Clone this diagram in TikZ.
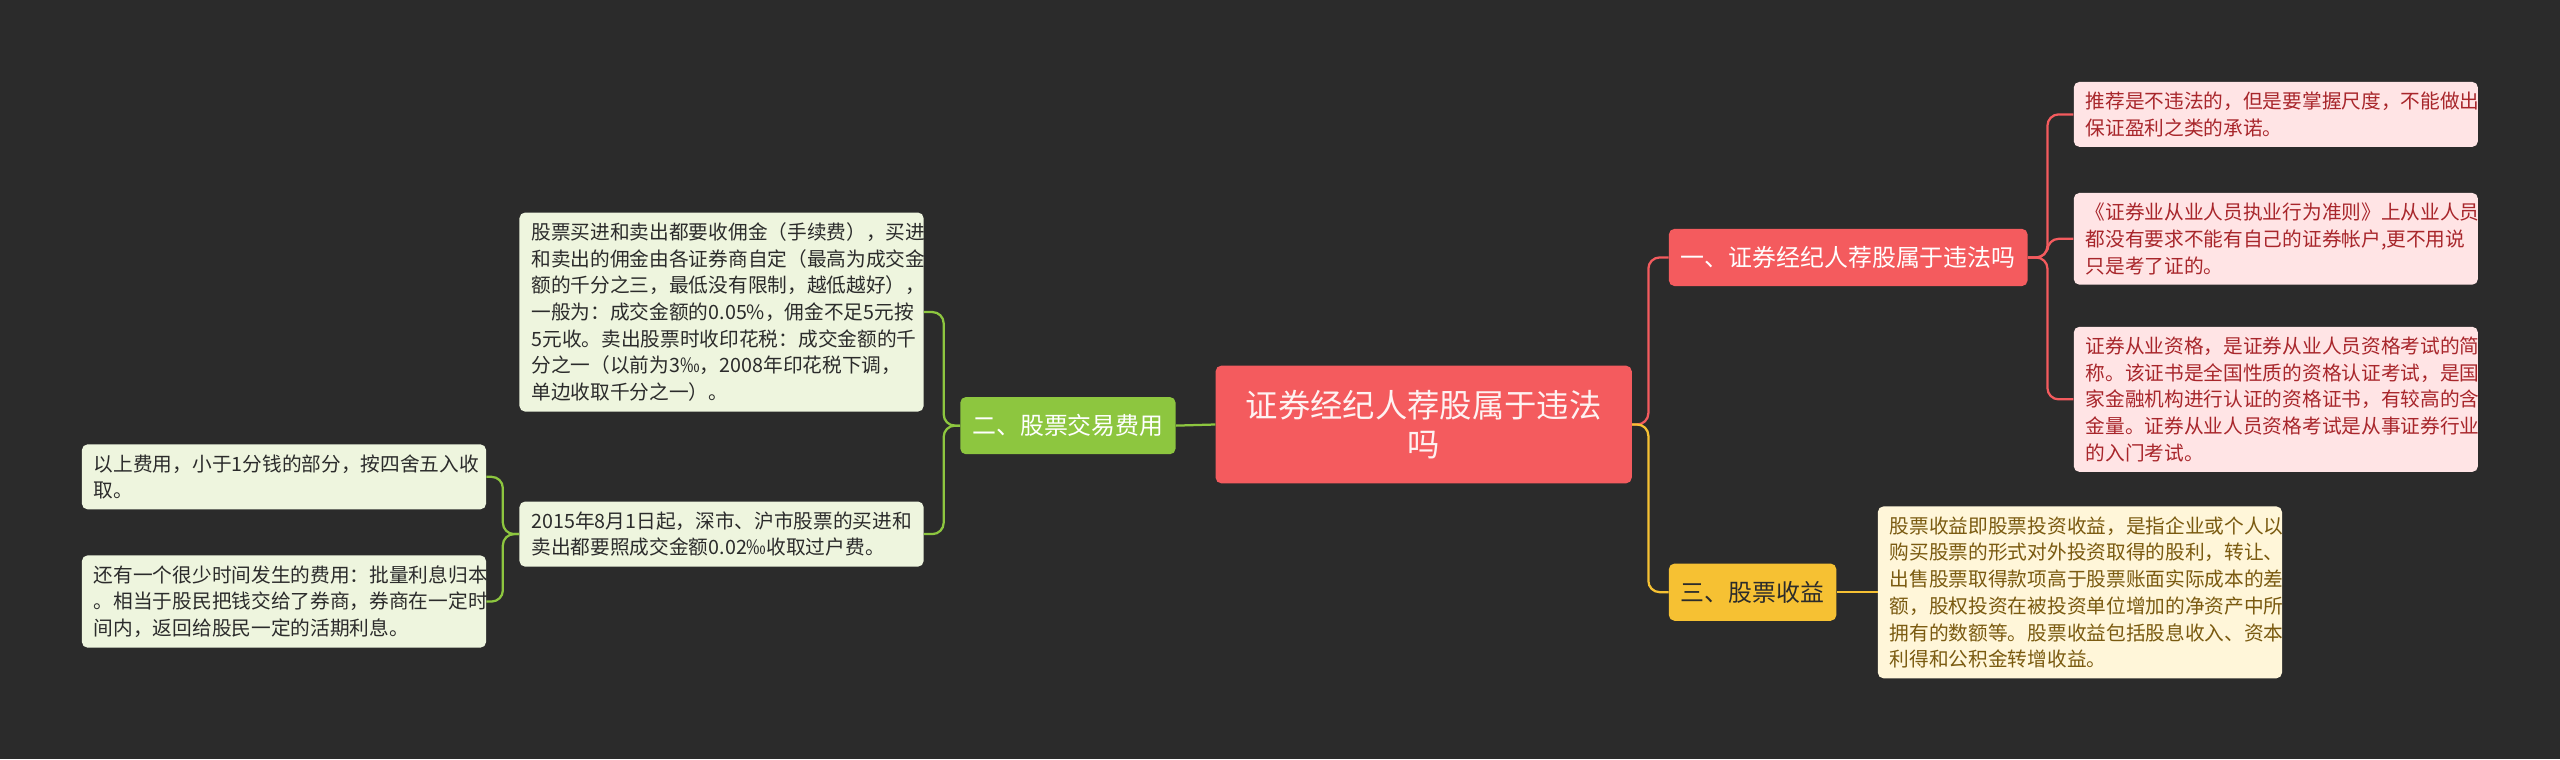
\documentclass[tikz,border=0pt]{standalone}
\usepackage{fontspec}
\setmainfont{Noto Sans CJK SC}
\usetikzlibrary{positioning}
\definecolor{bgc}{HTML}{2B2B2B}
\definecolor{rootc}{HTML}{F45B5E}
\definecolor{redc}{HTML}{F45B5E}
\definecolor{yelc}{HTML}{F6C133}
\definecolor{grnc}{HTML}{8DC63F}
\definecolor{pinkf}{HTML}{FFE4E5}
\definecolor{pinkt}{HTML}{A8262B}
\definecolor{creamf}{HTML}{FFF6D9}
\definecolor{creamt}{HTML}{7A5A10}
\definecolor{greenf}{HTML}{EEF5DE}
\definecolor{greent}{HTML}{2B2B2B}
\tikzset{
  leaf/.style={rectangle, rounded corners=4pt, anchor=north west, align=left,
    text width=9.5cm, inner xsep=0.3cm, inner ysep=0.25cm, font=\fontsize{14}{19}\selectfont},
  pinkleaf/.style={leaf, fill=pinkf, text=pinkt},
  creamleaf/.style={leaf, fill=creamf, text=creamt},
  greenleaf/.style={leaf, fill=greenf, text=greent},
  branch/.style={rectangle, rounded corners=4pt, anchor=north west, inner xsep=0.3cm,
    minimum height=1.43cm, font=\fontsize{17}{20}\selectfont},
  link/.style={line width=1.6pt, rounded corners=8pt}
}
\begin{document}
\begin{tikzpicture}[x=0.0408cm, y=-0.0408cm]
  \fill[bgc] (0,0) rectangle (1568,465);
  % centre
  \node [rectangle, rounded corners=4pt, fill=rootc, text=white!92!rootc, align=center,
         minimum width=10.4cm, minimum height=2.94cm, font=\fontsize{23}{28}\selectfont]
         (root) at (872,260) {证券经纪人荐股属于违法\\吗};
  % branches
  \node [branch, fill=redc, text=white] (fa) at (1022,140) {一、证券经纪人荐股属于违法吗};
  \node [branch, fill=yelc, text=bgc] (sy) at (1022,345) {三、股票收益};
  \node [branch, fill=grnc, text=white] (jy) at (588,243) {二、股票交易费用};
  % right leaves
  \node [pinkleaf] (fa1) at (1270,50) {推荐是不违法的，但是要掌握尺度，不能做出\\保证盈利之类的承诺。};
  \node [pinkleaf] (fa2) at (1270,118) {《证券业从业人员执业行为准则》上从业人员\\都没有要求不能有自己的证券帐户,更不用说\\只是考了证的。};
  \node [pinkleaf] (fa3) at (1270,200) {证券从业资格，是证券从业人员资格考试的简\\称。该证书是全国性质的资格认证考试，是国\\家金融机构进行认证的资格证书，有较高的含\\金量。证券从业人员资格考试是从事证券行业\\的入门考试。};
  \node [creamleaf] (sy1) at (1150,310) {股票收益即股票投资收益，是指企业或个人以\\购买股票的形式对外投资取得的股利，转让、\\出售股票取得款项高于股票账面实际成本的差\\额，股权投资在被投资单位增加的净资产中所\\拥有的数额等。股票收益包括股息收入、资本\\利得和公积金转增收益。};
  % left leaves
  \node [greenleaf] (jy1) at (318,130) {股票买进和卖出都要收佣金（手续费），买进\\和卖出的佣金由各证券商自定（最高为成交金\\额的千分之三，最低没有限制，越低越好），\\一般为：成交金额的0.05\%，佣金不足5元按\\5元收。卖出股票时收印花税：成交金额的千\\分之一（以前为3‰，2008年印花税下调，\\单边收取千分之一）。};
  \node [greenleaf] (jy2) at (318,307) {2015年8月1日起，深市、沪市股票的买进和\\卖出都要照成交金额0.02‰收取过户费。};
  \node [greenleaf] (jy3) at (50,272) {以上费用，小于1分钱的部分，按四舍五入收\\取。};
  \node [greenleaf] (jy4) at (50,340) {还有一个很少时间发生的费用：批量利息归本\\。相当于股民把钱交给了券商，券商在一定时\\间内，返回给股民一定的活期利息。};
  % connectors
  \draw [link, redc] (root.east) -- ++(10,0) |- (fa.west);
  \draw [link, yelc] (root.east) -- ++(10,0) |- (sy.west);
  \draw [link, grnc] (root.west) -- (jy.east);
  \foreach \n in {fa1,fa2,fa3}
    \draw [link, redc] (fa.east) -- ++(12,0) |- (\n.west);
  \draw [link, yelc] (sy.east) -- (sy1.west |- sy.east);
  \foreach \n in {jy1,jy2}
    \draw [link, grnc] (jy.west) -- ++(-10,0) |- (\n.east);
  \foreach \n in {jy3,jy4}
    \draw [link, grnc] (jy2.west) -- ++(-10,0) |- (\n.east);
\end{tikzpicture}
\end{document}
